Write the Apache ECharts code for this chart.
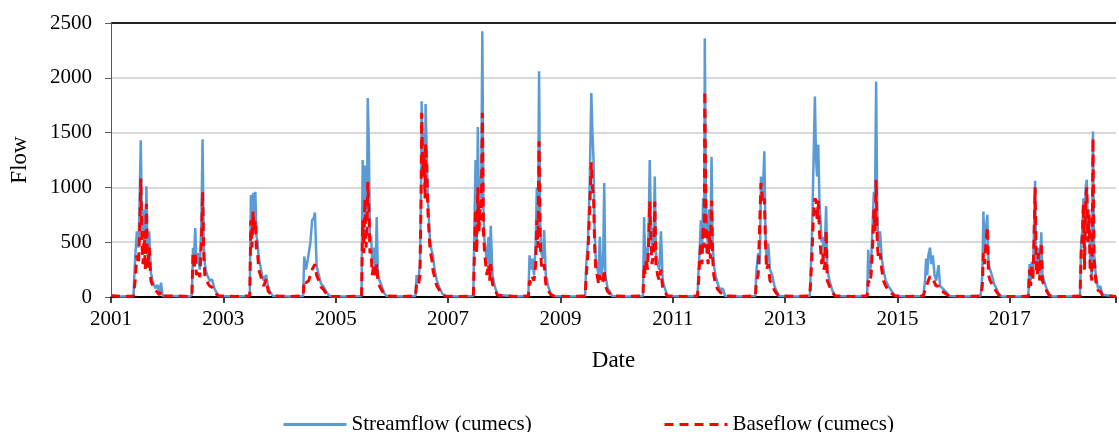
<!DOCTYPE html>
<html>
<head>
<meta charset="utf-8">
<script src="https://cdn.jsdelivr.net/npm/echarts@6/dist/echarts.min.js"></script>
<style>
html,body{margin:0;padding:0;background:#fff;}
#chart{width:1119px;height:432px;}
</style>
</head>
<body>
<div id="chart"></div>
<script>
// Decimal-year dates
const dates = [
2001.00,2001.20,2001.40,2001.43,2001.46,2001.49,2001.51,2001.53,2001.55,2001.57,2001.59,2001.61,2001.63,2001.65,2001.68,2001.71,2001.75,2001.79,2001.83,2001.86,2001.89,2001.92,
2002.10,2002.40,2002.44,2002.46,2002.48,2002.50,2002.52,2002.55,2002.58,2002.61,2002.63,2002.65,2002.67,2002.70,2002.73,2002.76,2002.80,2002.84,2002.88,2002.92,
2003.20,2003.47,2003.49,2003.51,2003.53,2003.55,2003.57,2003.59,2003.61,2003.63,2003.66,2003.69,2003.72,2003.76,2003.80,2003.84,2003.88,
2004.20,2004.42,2004.44,2004.47,2004.49,2004.52,2004.55,2004.58,2004.61,2004.63,2004.66,2004.70,2004.74,2004.78,2004.82,2004.87,2004.92,
2005.20,2005.46,2005.48,2005.50,2005.52,2005.54,2005.56,2005.57,2005.59,2005.61,2005.63,2005.65,2005.68,2005.71,2005.73,2005.75,2005.78,2005.82,2005.86,2005.90,
2006.20,2006.42,2006.44,2006.47,2006.50,2006.52,2006.53,2006.55,2006.57,2006.59,2006.60,2006.62,2006.64,2006.66,2006.68,2006.71,2006.73,2006.76,2006.80,2006.85,2006.90,2006.95,
2007.20,2007.45,2007.47,2007.49,2007.51,2007.53,2007.55,2007.57,2007.59,2007.61,2007.63,2007.65,2007.67,2007.69,2007.72,2007.74,2007.76,2007.79,2007.83,2007.88,
2008.20,2008.43,2008.45,2008.47,2008.50,2008.53,2008.56,2008.58,2008.60,2008.62,2008.64,2008.66,2008.69,2008.71,2008.74,2008.78,2008.83,2008.88,
2009.20,2009.44,2009.46,2009.49,2009.52,2009.55,2009.57,2009.59,2009.61,2009.63,2009.66,2009.68,2009.70,2009.73,2009.76,2009.78,2009.80,2009.84,2009.88,2009.92,
2010.20,2010.47,2010.49,2010.51,2010.53,2010.55,2010.57,2010.59,2010.61,2010.63,2010.66,2010.68,2010.70,2010.73,2010.76,2010.79,2010.82,2010.86,2010.90,
2011.20,2011.44,2011.46,2011.48,2011.50,2011.52,2011.54,2011.56,2011.57,2011.59,2011.61,2011.63,2011.65,2011.67,2011.69,2011.71,2011.73,2011.76,2011.80,2011.85,2011.89,2011.93,
2012.20,2012.47,2012.49,2012.52,2012.55,2012.57,2012.58,2012.60,2012.63,2012.65,2012.67,2012.70,2012.73,2012.77,2012.81,2012.85,2012.89,
2013.20,2013.44,2013.46,2013.48,2013.50,2013.53,2013.55,2013.57,2013.59,2013.61,2013.63,2013.65,2013.67,2013.69,2013.71,2013.73,2013.75,2013.79,2013.84,2013.89,
2014.20,2014.46,2014.48,2014.50,2014.53,2014.56,2014.58,2014.60,2014.62,2014.64,2014.66,2014.69,2014.72,2014.75,2014.79,2014.84,2014.90,2014.96,
2015.20,2015.46,2015.49,2015.51,2015.53,2015.55,2015.58,2015.60,2015.63,2015.66,2015.69,2015.73,2015.76,2015.80,2015.86,2015.92,
2016.20,2016.48,2016.51,2016.53,2016.55,2016.57,2016.60,2016.62,2016.65,2016.68,2016.72,2016.76,2016.81,2016.86,
2017.20,2017.33,2017.35,2017.37,2017.39,2017.41,2017.43,2017.45,2017.47,2017.49,2017.51,2017.53,2017.56,2017.58,2017.61,2017.65,2017.70,2017.76,
2018.00,2018.25,2018.27,2018.29,2018.31,2018.33,2018.35,2018.37,2018.39,2018.41,2018.43,2018.46,2018.48,2018.50,2018.53,2018.57,2018.61,2018.65,2018.89
];

const streamflow = [
12,5,10,360,600,450,900,1430,700,520,800,420,1010,380,600,220,130,80,110,30,130,10,
10,5,20,450,380,630,300,400,250,700,1440,500,300,220,180,150,160,80,40,10,
5,10,930,600,950,700,960,550,500,350,280,200,150,200,80,40,10,
5,10,370,250,300,290,500,700,720,770,280,200,120,100,60,20,5,
5,10,1250,600,1200,700,1000,1815,1400,500,550,300,450,250,730,200,150,100,40,10,
5,10,200,150,300,1000,1785,1200,1500,1000,1760,1770,900,700,500,420,380,250,150,80,30,10,
5,10,700,1250,500,1550,800,1100,900,2425,800,500,430,300,550,250,650,200,100,20,
5,10,380,250,350,200,500,1000,600,2060,700,400,350,610,200,100,30,10,
5,10,300,500,1000,1860,1500,1240,600,350,250,200,550,200,300,1040,200,80,50,10,
5,10,730,300,450,350,600,1250,700,400,500,1100,400,300,250,600,150,80,10,
5,10,250,450,700,400,900,600,2360,900,600,400,800,500,1280,500,300,200,120,60,80,10,
5,10,250,400,300,1100,1050,900,1330,600,300,490,250,200,100,50,10,
5,10,300,600,1100,1830,1250,1100,1390,900,700,500,550,350,500,830,250,150,60,10,
5,10,430,200,300,700,960,900,1965,800,450,600,350,250,150,100,50,10,
5,10,150,350,200,380,450,300,380,200,150,290,100,80,50,10,
5,10,200,780,400,600,750,300,250,200,120,80,20,5,
5,10,300,150,320,200,600,1060,300,250,450,200,590,200,150,80,20,5,
5,10,500,600,900,300,1000,1070,600,800,300,200,1510,400,200,80,100,20,5
];

const baseflow = [
12,5,10,150,380,300,600,1080,500,300,600,250,850,260,450,150,90,60,40,20,50,10,
10,5,15,400,250,400,200,250,180,500,960,400,200,160,120,100,90,50,25,10,
5,10,700,450,780,600,700,420,400,250,200,150,100,160,50,30,10,
5,10,150,130,120,150,200,250,280,300,200,150,90,70,40,15,5,
5,10,700,400,900,450,650,1050,800,400,420,200,300,180,300,150,100,60,30,10,
5,10,120,100,200,900,1680,1100,1300,900,1400,1200,800,600,420,350,250,180,100,60,20,10,
5,10,400,800,400,1000,600,800,700,1680,600,400,300,200,300,150,300,120,70,15,
5,10,150,120,180,150,300,700,450,1420,500,300,250,300,120,60,20,10,
5,10,200,400,800,1230,1000,900,450,250,180,120,200,120,150,250,100,50,30,10,
5,10,300,200,350,250,500,870,500,300,400,870,300,200,150,250,80,50,10,
5,10,150,350,500,300,650,450,1880,700,400,300,600,350,880,350,200,120,70,40,30,10,
5,10,150,200,200,1040,1000,850,900,500,250,300,150,120,60,30,10,
5,10,200,400,700,900,880,700,880,600,450,300,400,250,300,610,150,100,40,10,
5,10,150,120,200,500,800,600,1070,500,350,400,250,150,100,60,30,10,
5,10,60,100,120,150,190,180,170,130,100,100,60,50,30,10,
5,10,100,400,300,450,640,200,150,120,80,50,15,5,
5,10,250,100,300,150,500,1000,250,200,400,150,500,150,100,60,15,5,
5,10,400,550,850,250,900,1000,500,750,250,150,1450,350,150,60,50,15,5
];

const seriesNames = ['Streamflow (cumecs)', 'Baseflow (cumecs)'];
const startYear = 2001;
const endYear = 2018.89;
const yTicks = [0, 500, 1000, 1500, 2000, 2500];

const FONT = 'Liberation Serif';
const streamData = dates.map((t, i) => [t - startYear, streamflow[i]]);
const baseData = dates.map((t, i) => [t - startYear, baseflow[i]]);

const legendBase = {
  top: 409, itemWidth: 63, itemHeight: 14,
  itemStyle: {opacity: 0},
  lineStyle: {width: 3},
  textStyle: {fontFamily: FONT, fontSize: 21, color: '#000'}
};

const chart = echarts.init(document.getElementById('chart'), null, {renderer: 'canvas'});
chart.setOption({
  animation: false,
  backgroundColor: '#ffffff',
  grid: {left: 111, right: 0, top: 23, bottom: 135, containLabel: false},
  legend: [
    Object.assign({data: [seriesNames[0]], left: 277}, legendBase),
    Object.assign({data: [seriesNames[1]], left: 658}, legendBase)
  ],
  xAxis: {
    type: 'value', min: 0, max: endYear - startYear, interval: 2,
    name: 'Date', nameLocation: 'middle', nameGap: 52,
    nameTextStyle: {fontFamily: FONT, fontSize: 23, color: '#000'},
    axisLine: {show: true, onZero: false, lineStyle: {color: '#000', width: 1.5}},
    axisTick: {show: true, length: 6, lineStyle: {color: '#000', width: 1.5}},
    axisLabel: {
      fontFamily: FONT, fontSize: 21, color: '#000', margin: 12,
      formatter: v => (Math.abs(v % 2) < 1e-6 ? String(startYear + Math.round(v)) : '')
    },
    splitLine: {show: false}
  },
  yAxis: {
    type: 'value', min: yTicks[0], max: yTicks[yTicks.length - 1], interval: 500,
    name: 'Flow', nameLocation: 'middle', nameGap: 80,
    nameTextStyle: {fontFamily: FONT, fontSize: 23, color: '#000'},
    axisLine: {show: true, lineStyle: {color: '#595959', width: 1}},
    axisTick: {show: true, length: 6, lineStyle: {color: '#595959'}},
    axisLabel: {fontFamily: FONT, fontSize: 21, color: '#000', margin: 19, formatter: v => String(v)},
    splitLine: {show: true, lineStyle: {color: ['#000', '#d9d9d9', '#d9d9d9', '#d9d9d9', '#d9d9d9', '#222'], width: 2}}
  },
  series: [
    {name: seriesNames[0], type: 'line', data: streamData, symbol: 'none', z: 2,
     color: '#5B9BD5', lineStyle: {color: '#5B9BD5', width: 2.5}},
    {name: seriesNames[1], type: 'line', data: baseData, symbol: 'none', z: 3,
     color: '#FF0000', lineStyle: {color: '#FF0000', width: 3, type: [9, 6]}}
  ]
});
</script>
</body>
</html>
